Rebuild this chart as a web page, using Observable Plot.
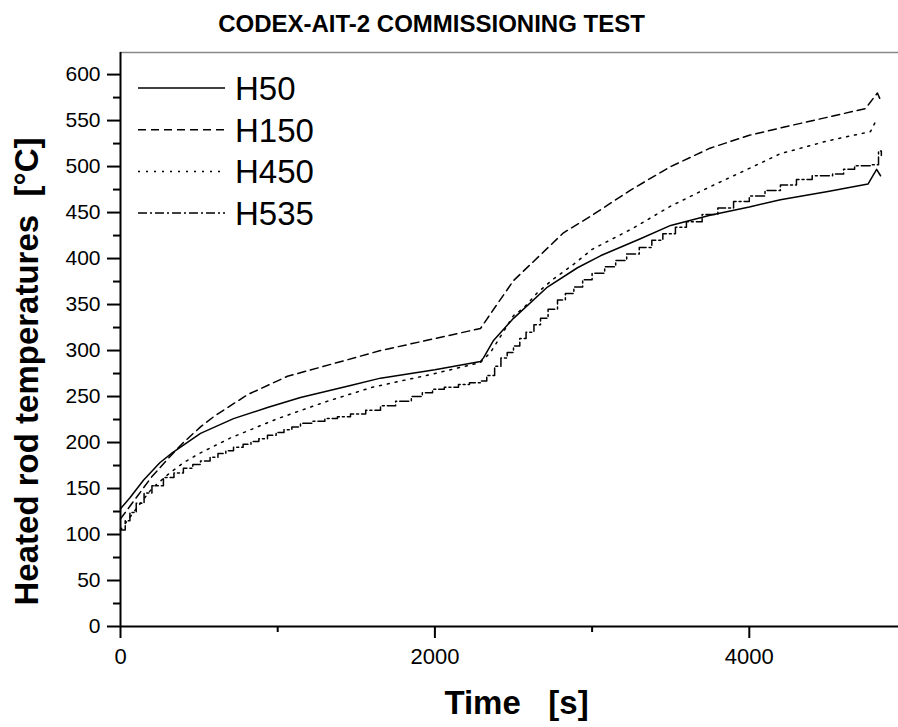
<!DOCTYPE html>
<html><head><meta charset="utf-8">
<script src="https://cdn.jsdelivr.net/npm/d3@7"></script>
<script src="https://cdn.jsdelivr.net/npm/@observablehq/plot@0.6"></script>
<style>
html,body{margin:0;padding:0;background:#fff;}
#wrap{position:relative;width:898px;height:727px;overflow:hidden;font-family:"Liberation Sans",Arial,Helvetica,sans-serif;}
#legend{position:absolute;left:0;top:0;}
</style></head><body><div id="wrap"></div>
<script>
const chartTitle = "CODEX-AIT-2 COMMISSIONING TEST";
const xLabel = "Time\u00a0\u00a0\u00a0[s]";
const yLabel = "Heated rod temperatures\u00a0\u00a0[°C]";
const seriesNames = ["H50", "H150", "H450", "H535"];
const xTicks = [0, 2000, 4000];
const xMinorTicks = [1000, 3000, 5000];
const yTicks = [0, 50, 100, 150, 200, 250, 300, 350, 400, 450, 500, 550, 600];
const yMinorTicks = [25, 75, 125, 175, 225, 275, 325, 375, 425, 475, 525, 575, 625];
const xMax = 5000;
const yMax = 624;

const timeH50 = [0, 60, 146, 250, 331, 509, 719, 935, 1145, 1463, 1654, 2000, 2290, 2309, 2373, 2500, 2716, 2907, 3053, 3300, 3500, 3750, 4000, 4198, 4500, 4755, 4810, 4835];
const tempH50 = [128, 140, 159, 178, 189, 210, 226, 238, 249, 262, 270, 279, 288, 292, 311, 335, 369, 390, 403, 421, 436, 447, 456, 464, 473, 481, 497, 490];

const timeH150 = [0, 100, 200, 300, 394, 509, 600, 808, 1062, 1444, 1654, 2000, 2290, 2354, 2500, 2818, 3000, 3250, 3500, 3750, 4000, 4198, 4739, 4815, 4835];
const tempH150 = [117, 140, 163, 182, 199, 217, 229, 252, 272, 290, 300, 313, 324, 340, 376, 428, 447, 475, 500, 520, 534, 542, 563, 580, 572];

const timeH450 = [0, 100, 200, 300, 400, 500, 700, 1000, 1300, 1600, 2000, 2290, 2354, 2500, 2563, 2653, 2756, 2884, 3000, 3250, 3500, 3750, 4000, 4198, 4500, 4771, 4815];
const tempH450 = [105, 128, 150, 165, 178, 188, 205, 226, 244, 260, 275, 287, 298, 338, 346, 363, 378, 394, 410, 432, 457, 478, 498, 514, 528, 538, 553];

const timeH535 = [0, 30, 60, 100, 150, 200, 273, 340, 400, 460, 509, 570, 620, 670, 719, 780, 830, 880, 935, 990, 1040, 1090, 1145, 1220, 1300, 1380, 1463, 1560, 1654, 1750, 1850, 1920, 1985, 2060, 2150, 2220, 2290, 2330, 2380, 2420, 2460, 2500, 2540, 2580, 2630, 2672, 2720, 2780, 2830, 2884, 2940, 3000, 3080, 3150, 3220, 3300, 3380, 3450, 3530, 3600, 3700, 3800, 3900, 4000, 4100, 4198, 4300, 4400, 4530, 4600, 4670, 4770, 4822, 4840];
const tempH535 = [105, 115, 124, 134, 145, 153, 162, 167, 172, 176, 180, 184, 188, 191, 195, 198, 201, 204, 208, 211, 214, 217, 221, 223, 226, 228, 231, 235, 240, 245, 250, 254, 258, 260, 263, 265, 267, 273, 283, 292, 298, 305, 313, 320, 328, 335, 345, 355, 362, 369, 377, 384, 391, 398, 405, 412, 420, 427, 434, 440, 448, 455, 462, 468, 474, 480, 486, 490, 492, 497, 501, 502, 517, 512];

const zip = (ts, vs) => ts.map((t, i) => ({t, T: vs[i]}));
const rows = [zip(timeH50, tempH50), zip(timeH150, tempH150), zip(timeH450, tempH450), zip(timeH535, tempH535)];
const dashes = [null, "8,5", "2,6", "9,3,2,3"];
const curves = ["linear", "linear", "linear", "step-after"];

const lineMarks = rows.map((r, i) => Plot.line(r, {
  x: "t", y: "T", stroke: "black", strokeWidth: 1.5,
  strokeDasharray: dashes[i] ?? undefined, curve: curves[i]
}));

const chart = Plot.plot({
  width: 898, height: 727,
  marginLeft: 120, marginRight: -8, marginTop: 52, marginBottom: 101,
  style: {fontFamily: "Liberation Sans, Arial, Helvetica, sans-serif", background: "white", color: "black", overflow: "visible"},
  x: {domain: [0, xMax]},
  y: {domain: [0, yMax]},
  marks: [
    Plot.ruleY([yMax], {stroke: "#888", strokeWidth: 1.5}),
    ...lineMarks,
    Plot.axisY({ticks: yTicks, tickSize: 13, tickPadding: 7, fontSize: 21, strokeWidth: 2, label: null, tickFormat: d => String(d)}),
    Plot.axisY({ticks: yMinorTicks.filter(v => v <= yMax), tickSize: 7, text: null, strokeWidth: 2, label: null}),
    Plot.axisX({ticks: xTicks, tickSize: 12, tickPadding: 10, fontSize: 22, strokeWidth: 2, label: null, tickFormat: d => String(d)}),
    Plot.axisX({ticks: xMinorTicks, tickSize: 6, text: null, strokeWidth: 2, label: null}),
    Plot.ruleX([0], {strokeWidth: 2}),
    Plot.ruleY([0], {strokeWidth: 2}),
    Plot.text([chartTitle], {frameAnchor: "top", dx: -82, dy: -28, fontSize: 24, fontWeight: "bold", lineAnchor: "middle", textAnchor: "middle"}),
    Plot.text([yLabel], {frameAnchor: "left", rotate: -90, dx: -93, dy: 32, fontSize: 33, fontWeight: "bold", lineAnchor: "middle", textAnchor: "middle"}),
    Plot.text([xLabel], {frameAnchor: "bottom", dx: 3, dy: 77, fontSize: 33, fontWeight: "bold", lineAnchor: "middle", textAnchor: "middle"})
  ]
});
const wrap = document.getElementById("wrap");
wrap.appendChild(chart);

// legend overlay
const leg = d3.select(wrap).append("svg").attr("id", "legend").attr("width", 400).attr("height", 260);
seriesNames.forEach((name, i) => {
  const y = 88 + i * 41.7;
  leg.append("line").attr("x1", 138).attr("x2", 225).attr("y1", y).attr("y2", y)
    .attr("stroke", "black").attr("stroke-width", 1.5)
    .attr("stroke-dasharray", dashes[i] ?? null);
  leg.append("text").attr("x", 235).attr("y", y).attr("dy", "0.36em")
    .attr("font-size", 33).attr("font-family", "Liberation Sans, Arial, sans-serif").text(name);
});
</script></body></html>
